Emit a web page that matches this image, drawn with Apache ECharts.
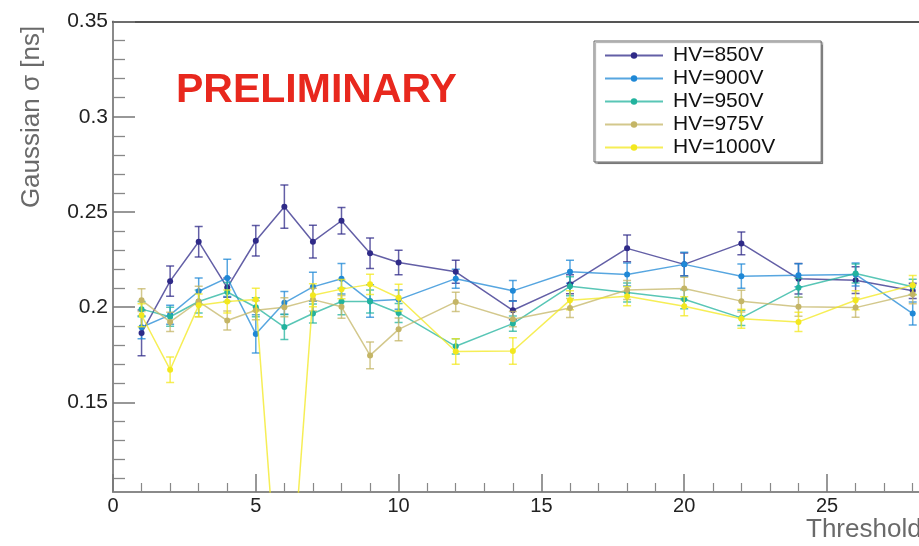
<!DOCTYPE html>
<html>
<head>
<meta charset="utf-8">
<script src="https://cdn.jsdelivr.net/npm/echarts@6/dist/echarts.min.js"></script>
<style>
  html, body { margin: 0; padding: 0; background: #fff; }
  #chart { width: 919px; height: 546px; }
</style>
</head>
<body>
<div id="chart"></div>
<script>
// threshold values on the x axis
const threshold = [1, 2, 3, 4, 5, 6, 7, 8, 9, 10, 12, 14, 16, 18, 20, 22, 24, 26, 28];

// gaussian sigma [ns] per HV setting
const hv850  = [0.1865, 0.2137, 0.2344, 0.2103, 0.2349, 0.2528, 0.2344, 0.2454, 0.2283, 0.2235, 0.2186, 0.1984, 0.2121, 0.2309, 0.2225, 0.2335, 0.2150, 0.2142, 0.2086];
const hv900  = [0.1895, 0.1960, 0.2084, 0.2154, 0.1860, 0.2023, 0.2107, 0.2150, 0.2033, 0.2040, 0.2150, 0.2086, 0.2186, 0.2172, 0.2225, 0.2163, 0.2168, 0.2172, 0.1967];
const hv950  = [0.1990, 0.1950, 0.2030, 0.2080, 0.2000, 0.1896, 0.1967, 0.2030, 0.2030, 0.1970, 0.1795, 0.1914, 0.2110, 0.2077, 0.2042, 0.1944, 0.2102, 0.2177, 0.2107];
const hv975  = [0.2037, 0.1923, 0.2030, 0.1930, 0.1984, 0.2000, 0.2040, 0.2002, 0.1747, 0.1884, 0.2028, 0.1937, 0.1996, 0.2090, 0.2098, 0.2032, 0.2002, 0.1998, 0.2068];
const hv1000 = [0.1958, 0.1672, 0.2010, 0.2030, 0.2040, 0.0020, 0.2063, 0.2095, 0.2120, 0.2050, 0.1768, 0.1770, 0.2037, 0.2058, 0.2005, 0.1940, 0.1923, 0.2037, 0.2116];

// error bars (half widths)
const err850  = [0.012, 0.008, 0.008, 0.005, 0.008, 0.0114, 0.0086, 0.007, 0.008, 0.0064, 0.006, 0.005, 0.005, 0.007, 0.006, 0.006, 0.008, 0.007, 0.004];
const err900  = [0.006, 0.005, 0.007, 0.0098, 0.010, 0.006, 0.0076, 0.008, 0.0085, 0.005, 0.005, 0.0054, 0.006, 0.006, 0.0063, 0.0064, 0.006, 0.006, 0.006];
const err950  = [0.004, 0.005, 0.006, 0.005, 0.005, 0.0066, 0.005, 0.007, 0.006, 0.005, 0.004, 0.004, 0.005, 0.005, 0.005, 0.004, 0.005, 0.005, 0.004];
const err975  = [0.006, 0.005, 0.008, 0.005, 0.005, 0.005, 0.006, 0.006, 0.007, 0.006, 0.005, 0.004, 0.005, 0.005, 0.006, 0.0057, 0.005, 0.005, 0.005];
const err1000 = [0.006, 0.0067, 0.006, 0.006, 0.006, 0.006, 0.006, 0.005, 0.0053, 0.007, 0.0067, 0.007, 0.005, 0.005, 0.005, 0.005, 0.005, 0.005, 0.005];

const names = ['HV=850V', 'HV=900V', 'HV=950V', 'HV=975V', 'HV=1000V'];
const values = [hv850, hv900, hv950, hv975, hv1000];
const errors = [err850, err900, err950, err975, err1000];
const colors = ['#2f2a88', '#1f88d6', '#22b39e', '#c4b566', '#f3e81e'];

// axis ticks (the frame is cut at the right edge, a bit past 28)
const xMajor = [0, 5, 10, 15, 20, 25];
const xMinor = [1, 2, 3, 4, 6, 7, 8, 9, 11, 12, 13, 14, 16, 17, 18, 19, 21, 22, 23, 24, 26, 27, 28];
const yMajor = [0.15, 0.2, 0.25, 0.3, 0.35];
const yMinor = [0.11, 0.12, 0.13, 0.14, 0.16, 0.17, 0.18, 0.19, 0.21, 0.22, 0.23, 0.24,
                0.26, 0.27, 0.28, 0.29, 0.31, 0.32, 0.33, 0.34];
const xMin = 0, xMax = 28.22;
const yMin = 0.103, yMax = 0.35;

const chart = echarts.init(document.getElementById('chart'));
const font = '"Liberation Sans", Arial, sans-serif';

const lineSeries = names.map((n, k) => ({
  name: n,
  type: 'line',
  data: threshold.map((t, i) => [t, values[k][i]]),
  symbol: 'circle',
  symbolSize: 6,
  clip: true,
  itemStyle: { color: colors[k] },
  lineStyle: { color: colors[k], width: 1.5, opacity: 0.75 },
  emphasis: { disabled: true },
  z: 3 + k
}));

const errSeries = names.map((n, k) => ({
  name: 'err ' + n,
  type: 'custom',
  clip: true,
  data: threshold.map((t, i) => [t, values[k][i] - errors[k][i], values[k][i] + errors[k][i]]),
  encode: { x: 0, y: [1, 2] },
  z: 2 + k,
  renderItem: function (params, api) {
    const lo = api.coord([api.value(0), api.value(1)]);
    const hi = api.coord([api.value(0), api.value(2)]);
    const w = 4;
    const style = { stroke: colors[k], lineWidth: 1.5, opacity: 0.75 };
    return {
      type: 'group',
      children: [
        { type: 'line', shape: { x1: lo[0], y1: lo[1], x2: hi[0], y2: hi[1] }, style: style },
        { type: 'line', shape: { x1: lo[0] - w, y1: lo[1], x2: lo[0] + w, y2: lo[1] }, style: style },
        { type: 'line', shape: { x1: hi[0] - w, y1: hi[1], x2: hi[0] + w, y2: hi[1] }, style: style }
      ]
    };
  }
}));

const option = {
  animation: false,
  grid: { left: 113, right: 0, top: 21.5, bottom: 54 },
  xAxis: [{
    type: 'value',
    min: xMin, max: xMax,
    axisLine: { lineStyle: { color: '#8a8a8a', width: 2 } },
    axisTick: { inside: true, length: 18, customValues: xMajor, lineStyle: { color: '#777', width: 1.5 } },
    splitLine: { show: false },
    axisLabel: { customValues: xMajor, color: '#222', fontSize: 20, fontFamily: font, margin: 4 }
  }, {
    type: 'value',
    position: 'bottom',
    min: xMin, max: xMax,
    axisLine: { show: false },
    axisTick: { inside: true, length: 9, customValues: xMinor, lineStyle: { color: '#888', width: 1.2 } },
    axisLabel: { show: false },
    splitLine: { show: false }
  }, {
    // top frame line
    type: 'value',
    position: 'top',
    min: xMin, max: xMax,
    axisLine: { lineStyle: { color: '#555', width: 2 } },
    axisTick: { show: false },
    axisLabel: { show: false },
    splitLine: { show: false }
  }],
  yAxis: [{
    type: 'value',
    min: yMin, max: yMax,
    axisLine: { lineStyle: { color: '#8a8a8a', width: 2 } },
    axisTick: { inside: true, length: 22, customValues: yMajor, lineStyle: { color: '#777', width: 1.5 } },
    splitLine: { show: false },
    axisLabel: {
      customValues: yMajor, color: '#222', fontSize: 21, fontFamily: font, margin: 5,
      formatter: v => String(+v.toFixed(2))
    }
  }, {
    type: 'value',
    position: 'left',
    min: yMin, max: yMax,
    axisLine: { show: false },
    axisTick: { inside: true, length: 12, customValues: yMinor, lineStyle: { color: '#888', width: 1.3 } },
    axisLabel: { show: false },
    splitLine: { show: false }
  }],
  legend: {
    data: names,
    orient: 'vertical',
    left: 594, top: 41,
    padding: [4, 46, 4, 10],
    itemWidth: 58, itemHeight: 8, itemGap: 2,
    borderColor: '#666', borderWidth: 1,
    backgroundColor: '#fff',
    shadowColor: 'rgba(0,0,0,0.35)', shadowOffsetX: 1.5, shadowOffsetY: 1.5, shadowBlur: 1,
    textStyle: { color: '#111', fontSize: 21, fontFamily: font, lineHeight: 21, padding: [0, 0, 0, 5] },
    selectedMode: false
  },
  graphic: [{
    type: 'text', left: 176, top: 70,
    style: { text: 'PRELIMINARY', fill: '#e8281e', font: 'bold 41px ' + font }
  }, {
    type: 'text', x: 32, y: 117, rotation: Math.PI / 2,
    style: { text: 'Gaussian σ [ns]', fill: '#6a6a6a', font: '26px ' + font, align: 'center', verticalAlign: 'middle' }
  }, {
    type: 'text', x: 806, y: 517,
    style: { text: 'Threshold', fill: '#6a6a6a', font: '26px ' + font, align: 'left', verticalAlign: 'top' }
  }],
  series: errSeries.concat(lineSeries)
};

chart.setOption(option);
</script>
</body>
</html>
